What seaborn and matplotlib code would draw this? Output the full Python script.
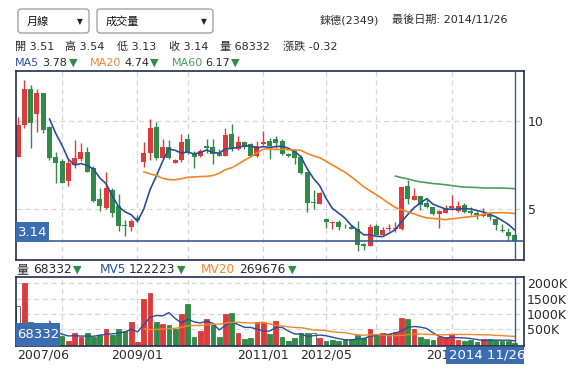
import numpy as np
import pandas as pd
import matplotlib
matplotlib.use("Agg")
import matplotlib.pyplot as plt
import matplotlib.transforms as mtransforms
from matplotlib.patches import FancyBboxPatch, Rectangle
import seaborn as sns

sns.set_theme(style="white")
plt.rcParams["font.family"] = ["DejaVu Sans", "Noto Sans CJK TC"]

# monthly candles, 2007/06 .. 2014/11 (80 bars shown)
opens = [7.97, 9.76, 11.82, 10.38, 11.58, 9.67, 7.96, 7.72, 6.58, 7.49,
         7.81, 8.23, 7.30, 5.56, 5.04, 6.08, 5.13, 4.05, 3.97, 4.49,
         7.68, 8.19, 9.66, 7.87, 8.52, 7.62, 7.76, 8.95, 8.19, 8.00,
         8.57, 8.52, 8.19, 8.00, 9.24, 8.38, 8.80, 8.71, 8.00, 8.67,
         8.86, 8.95, 8.86, 8.14, 8.29, 7.95, 7.10, 5.40, 5.29, 4.40,
         4.16, 4.26, 3.98, 3.93, 3.84, 3.00, 2.89, 4.01, 3.50, 3.84,
         3.84, 3.86, 6.29, 5.48, 5.70, 5.30, 5.10, 4.72, 4.78, 5.04,
         4.85, 5.23, 4.87, 4.78, 4.56, 4.72, 4.41, 3.73, 3.64, 3.51]
highs = [10.20, 12.36, 12.07, 11.84, 11.58, 9.71, 8.25, 7.81, 7.81, 8.90,
         8.76, 8.52, 7.43, 6.20, 7.11, 6.20, 5.86, 4.34, 4.40, 4.66,
         8.82, 10.10, 9.94, 8.99, 8.90, 7.81, 9.24, 9.24, 8.29, 8.38,
         8.99, 8.99, 8.38, 9.58, 9.85, 9.14, 8.86, 8.76, 8.86, 9.41,
         9.05, 9.14, 8.99, 8.19, 8.33, 8.06, 7.10, 6.08, 5.94, 4.49,
         4.30, 4.33, 4.14, 4.07, 4.30, 3.05, 4.13, 4.11, 3.97, 4.11,
         4.26, 6.25, 6.65, 6.15, 5.74, 5.59, 5.11, 4.92, 5.21, 5.78,
         5.46, 5.30, 5.10, 4.87, 5.02, 4.79, 4.49, 4.11, 3.88, 3.54]
lows = [7.97, 9.60, 8.46, 9.38, 9.30, 7.75, 6.46, 6.44, 6.29, 7.34,
        7.72, 7.11, 5.40, 4.87, 4.96, 4.52, 3.75, 3.42, 3.71, 4.26,
        7.38, 7.76, 7.76, 7.87, 7.81, 7.62, 7.68, 8.10, 7.30, 7.95,
        8.19, 7.57, 8.00, 8.00, 8.29, 8.33, 8.38, 7.95, 7.95, 8.63,
        7.85, 8.44, 8.06, 7.95, 7.57, 7.00, 4.83, 4.98, 5.29, 3.92,
        3.82, 3.76, 3.92, 3.82, 2.60, 2.62, 2.89, 3.48, 3.50, 3.73,
        3.69, 3.78, 5.28, 5.48, 4.92, 5.02, 4.64, 3.88, 4.78, 4.92,
        4.83, 4.73, 4.64, 4.41, 4.54, 4.35, 3.80, 3.65, 3.14, 3.13]
closes = [9.76, 11.82, 9.86, 11.58, 9.50, 7.86, 7.63, 6.49, 7.63, 7.87,
          8.23, 7.11, 5.42, 5.16, 6.20, 4.75, 4.02, 3.99, 4.30, 4.36,
          8.19, 9.58, 7.87, 8.52, 7.87, 7.78, 8.80, 8.19, 7.95, 8.29,
          8.48, 8.10, 8.00, 9.20, 8.38, 8.80, 8.52, 8.00, 8.57, 8.80,
          8.57, 8.76, 8.10, 8.00, 7.87, 7.05, 5.34, 5.34, 5.92, 4.26,
          4.22, 3.98, 3.93, 3.86, 2.93, 2.85, 3.97, 3.50, 3.77, 3.86,
          3.90, 6.24, 5.57, 5.70, 5.23, 5.11, 4.68, 4.85, 5.04, 5.14,
          5.16, 4.83, 4.73, 4.62, 4.72, 4.50, 4.08, 3.72, 3.46, 3.14]
# volume in thousands of lots
volumes_k = [1250, 2020, 740, 400, 350, 300, 380, 268, 115, 378,
             248, 378, 237, 302, 509, 324, 498, 433, 737, 85,
             1498, 1683, 737, 682, 628, 520, 986, 1324, 248, 443,
             824, 628, 248, 986, 1030, 378, 183, 215, 726, 716,
             357, 771, 248, 115, 228, 378, 365, 365, 226, 115,
             139, 128, 172, 193, 302, 200, 500, 267, 365, 344,
             410, 860, 820, 520, 240, 190, 150, 255, 232, 350,
             140, 118, 140, 88, 185, 185, 140, 118, 104, 68.332]

# values printed in the quote header
ma_labels = ["MA5", "MA20", "MA60"]
ma_values = ["3.78", "4.74", "6.17"]
mv_labels = ["MV5", "MV20"]
mv_values = ["122223", "269676"]

grid_idx = [7, 19, 27, 39, 49, 57, 69]
date_idx = [19, 39, 49, 69]
date_labels = ["2009/01", "2011/01", "2012/05", "2013/11"]
first_label = "2007/06"
vol_ticks = [500, 1000, 1500, 2000]

RED = "#dc3b3b"
GREEN = "#2f8b47"
NAVY = "#1f2f4c"
LINE_BLUE = "#3b5c92"
BOX_BLUE = "#3b6db3"
MA5_C = "#2d4d9a"
MA20_C = "#f0852a"
MA60_C = "#4f9c62"
TXT = "#2a2a2a"
GRID = "#d6d6d6"

df = pd.DataFrame({"open": opens, "high": highs, "low": lows,
                   "close": closes, "vol": volumes_k})
df["idx"] = np.arange(len(df))
for n in (5, 20, 60):
    ma = df["close"].rolling(n).mean()
    ma.iloc[n - 1] = np.nan
    df[f"ma{n}"] = ma
for n in (5, 20):
    mv = df["vol"].rolling(n).mean()
    mv.iloc[n - 1] = np.nan
    df[f"mv{n}"] = mv

W, H = 582, 379
fig = plt.figure(figsize=(W / 100, H / 100), dpi=100)
fig.patch.set_facecolor("white")
pix = mtransforms.Affine2D().scale(1 / W, -1 / H).translate(0, 1) + fig.transFigure


def add_ax(left, top, right, bottom):
    return fig.add_axes([left / W, 1 - bottom / H, (right - left) / W, (bottom - top) / H])


ax = add_ax(15.7, 71, 524, 259.5)
axv = add_ax(15.7, 277.3, 524, 345.7)
xlim = (-0.37, 80.48)

# ---- price panel
up = df["close"] > df["open"]
ccol = np.where(up, RED, GREEN)
ax.vlines(df["idx"], df["low"], df["high"], colors=ccol, lw=1, zorder=2)
body_lo = np.minimum(df["open"], df["close"])
body_h = np.maximum((df["close"] - df["open"]).abs(), 0.05)
ax.bar(df["idx"], body_h, bottom=body_lo, width=0.8, color=ccol, linewidth=0, zorder=2)
sns.lineplot(data=df, x="idx", y="ma5", ax=ax, color=MA5_C, lw=1.2, zorder=3)
sns.lineplot(data=df, x="idx", y="ma20", ax=ax, color=MA20_C, lw=1.2, zorder=3)
sns.lineplot(data=df, x="idx", y="ma60", ax=ax, color=MA60_C, lw=1.2, zorder=3)
last = df.iloc[-1]
ax.axhline(last["close"], color=LINE_BLUE, lw=1.2, zorder=4)
ax.axvline(last["idx"], color=LINE_BLUE, lw=1, zorder=4)
ax.set_xlim(*xlim)
ax.set_ylim(2.10, 12.85)
ax.set_xticks(grid_idx)
ax.set_yticks([5, 10])
ax.yaxis.tick_right()
ax.tick_params(axis="both", length=0, labelbottom=False, labelsize=9, labelcolor=TXT, pad=3)
ax.grid(True, color=GRID, ls=(0, (4, 3)), lw=0.9)
ax.set_xlabel("")
ax.set_ylabel("")

# ---- volume panel
prev = df["close"].shift(1)
vcol = np.where(df["close"] > prev, RED, np.where(df["close"] < prev, GREEN, "white"))
vedge = np.where(vcol == "white", "#555555", vcol)
axv.bar(df["idx"], df["vol"], width=0.75, color=vcol, edgecolor=vedge, linewidth=0.6, zorder=2)
sns.lineplot(data=df, x="idx", y="mv5", ax=axv, color=MA5_C, lw=1, zorder=3)
sns.lineplot(data=df, x="idx", y="mv20", ax=axv, color=MA20_C, lw=1, zorder=3)
axv.axvline(last["idx"], color=LINE_BLUE, lw=1, zorder=4)
axv.set_xlim(*xlim)
axv.set_ylim(-36, 2195)
axv.set_xticks(grid_idx)
axv.set_yticks(vol_ticks)
axv.set_yticklabels([f"{v}K" for v in vol_ticks])
axv.yaxis.tick_right()
axv.tick_params(axis="both", length=0, labelbottom=False, labelsize=9, labelcolor=TXT, pad=2)
axv.grid(True, color=GRID, ls=(0, (4, 3)), lw=0.9)
axv.set_xlabel("")
axv.set_ylabel("")

for a in (ax, axv):
    for s in a.spines.values():
        s.set_color(NAVY)
        s.set_linewidth(1.2)

# date labels under volume panel
blend = mtransforms.blended_transform_factory(axv.transData, pix)
for i, lab in zip(date_idx, date_labels):
    axv.text(i, 355, lab, transform=blend, ha="center", va="center",
             fontsize=9, color=TXT, clip_on=False)
fig.text(17, 355, first_label, transform=pix, ha="left", va="center", fontsize=9, color=TXT)


# ---- value boxes
def value_box(x0, y0, x1, y1, label, tx):
    fig.patches.append(Rectangle((x0, y0), x1 - x0, y1 - y0, transform=pix,
                                 facecolor=BOX_BLUE, edgecolor="none", zorder=5))
    fig.text(tx, (y0 + y1) / 2, label, transform=pix, ha="left", va="center",
             fontsize=9.5, color="white", zorder=6)


value_box(15.7, 222, 49, 242, f"{last['close']:.2f}", 18)
value_box(15.7, 323, 60, 345.5, f"{int(round(last['vol'] * 1000))}", 17.5)
value_box(446, 346.5, 524, 364, "2014 11/26", 449)


# ---- header: drop-downs
def dropdown(x0, x1, sep, label):
    fig.patches.append(FancyBboxPatch((x0, 9), x1 - x0, 24, transform=pix,
                                      boxstyle="round,pad=0,rounding_size=3",
                                      facecolor="white", edgecolor="#9a9a9a", lw=0.9, zorder=5))
    fig.lines.append(plt.Line2D([sep, sep], [14, 29], transform=pix, color="#b0b0b0", lw=0.9))
    fig.text(x0 + 9, 21.5, label, transform=pix, ha="left", va="center",
             fontsize=8, color="#111111", zorder=6)
    fig.text((sep + x1) / 2, 21.5, "▼", transform=pix, ha="center", va="center",
             fontsize=5.5, color="#222222", zorder=6)


dropdown(18, 89, 71, "月線")
dropdown(97, 213, 194, "成交量")

fig.text(320, 20, "錸德(2349)", transform=pix, ha="left", va="center", fontsize=8, color=TXT)
fig.text(392, 20, "最後日期: 2014/11/26", transform=pix, ha="left", va="center", fontsize=8, color=TXT)

chg = last["close"] - df["close"].iloc[-2]
info = [(15, f"開 {last['open']:.2f}"), (65, f"高 {last['high']:.2f}"),
        (117, f"低 {last['low']:.2f}"), (169, f"收 {last['close']:.2f}"),
        (220, f"量 {int(round(last['vol'] * 1000))}"), (283, f"漲跌 {chg:.2f}")]
for x, s in info:
    fig.text(x, 47, s, transform=pix, ha="left", va="center", fontsize=8, color=TXT)

# MA legend row
ma_x = [(15, 42.5, 69), (90, 124, 150), (172, 205, 231)]
for (xl, xv, xa), lab, val, c in zip(ma_x, ma_labels, ma_values, [MA5_C, MA20_C, MA60_C]):
    fig.text(xl, 63, lab, transform=pix, ha="left", va="center", fontsize=8, color=c)
    fig.text(xv, 63, val, transform=pix, ha="left", va="center", fontsize=8, color=TXT)
    fig.text(xa, 63, "▼", transform=pix, ha="left", va="center", fontsize=8, color=GREEN)

# volume legend row
VFS = 8.7
fig.text(16, 269.5, "量", transform=pix, ha="left", va="center", fontsize=VFS, color=TXT)
fig.text(33, 269.5, f"{int(round(last['vol'] * 1000))}", transform=pix, ha="left", va="center",
         fontsize=VFS, color=TXT)
fig.text(72.5, 269.5, "▼", transform=pix, ha="left", va="center", fontsize=8, color=GREEN)
mv_x = [(100, 129, 177), (201, 239, 287.5)]
for (xl, xv, xa), lab, val, c in zip(mv_x, mv_labels, mv_values, [MA5_C, MA20_C]):
    fig.text(xl, 269.5, lab, transform=pix, ha="left", va="center", fontsize=VFS, color=c)
    fig.text(xv, 269.5, val, transform=pix, ha="left", va="center", fontsize=VFS, color=TXT)
    fig.text(xa, 269.5, "▼", transform=pix, ha="left", va="center", fontsize=8, color=GREEN)

fig.savefig("out.png", dpi=100)
